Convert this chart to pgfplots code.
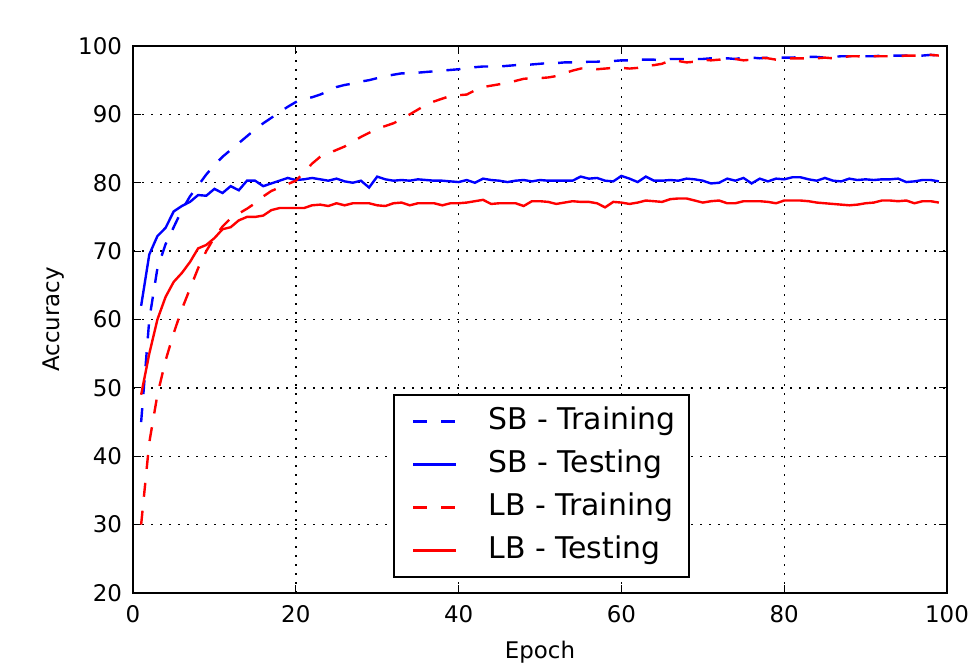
\documentclass[border=0pt]{standalone}
\usepackage{fontspec}
\setmainfont{DejaVu Sans}
\usepackage{pgfplots}
\pgfplotsset{compat=1.18}
\usepackage{pgfplotstable}

\pgfplotstableread{
x sbtr lbtr sbte lbte
1 45 30 62 49
2 60 42 69.5 55
3 67.5 49 72.2 60
4 71 54 73.4 63.3
5 73.5 58 75.8 65.5
6 76 61.5 76.6 66.8
7 78 64.5 77.2 68.4
8 79.6 67.5 78.2 70.4
9 81.2 70 78.1 70.9
10 82.6 72 79.1 71.9
11 83.8 73.6 78.5 73.2
12 84.8 74.8 79.5 73.5
13 85.8 75.5 78.9 74.5
14 86.8 76.2 80.3 75
15 87.8 77 80.3 75
16 88.7 78 79.5 75.2
17 89.5 78.8 79.9 76
18 90.3 79.3 80.3 76.3
19 91.1 79.8 80.7 76.3
20 91.8 80.3 80.4 76.3
21 92.3 81.5 80.5 76.3
22 92.5 82.8 80.7 76.7
23 92.9 83.8 80.5 76.8
24 93.4 84.3 80.3 76.6
25 94 84.8 80.6 77
26 94.3 85.3 80.2 76.7
27 94.5 86 80.0 77
28 94.8 86.7 80.3 77
29 95 87.3 79.3 77
30 95.3 87.9 80.9 76.7
31 95.6 88.3 80.5 76.6
32 95.8 88.7 80.3 77
33 96 89.3 80.4 77.1
34 96 90 80.3 76.7
35 96.1 90.7 80.5 77
36 96.2 91.4 80.4 77
37 96.3 91.9 80.3 77
38 96.4 92.3 80.3 76.7
39 96.5 92.7 80.2 77
40 96.6 92.8 80.1 77
41 96.8 92.9 80.4 77.1
42 96.9 93.5 80.0 77.3
43 97 94 80.6 77.5
44 97 94.2 80.4 76.9
45 97 94.4 80.3 77
46 97.1 94.6 80.1 77
47 97.2 94.9 80.3 77
48 97.2 95.2 80.4 76.6
49 97.3 95.3 80.2 77.3
50 97.4 95.3 80.4 77.3
51 97.5 95.4 80.3 77.2
52 97.5 95.6 80.3 76.9
53 97.6 96 80.3 77.1
54 97.6 96.4 80.3 77.3
55 97.6 96.7 80.9 77.2
56 97.7 96.8 80.6 77.2
57 97.7 96.6 80.7 77
58 97.8 96.7 80.3 76.4
59 97.8 96.8 80.2 77.2
60 97.9 96.8 81.0 77.1
61 97.9 96.7 80.6 76.9
62 98 96.8 80.1 77.1
63 98 97.1 80.9 77.4
64 98 97.2 80.3 77.3
65 97.9 97.4 80.3 77.2
66 98.1 97.9 80.4 77.6
67 98.1 97.8 80.3 77.7
68 98.1 97.6 80.6 77.7
69 98.1 97.7 80.5 77.4
70 98.1 98 80.3 77.1
71 98.2 97.9 79.9 77.3
72 98.2 98 80.0 77.4
73 98.2 98.1 80.6 77
74 98.1 98.1 80.3 77
75 98.3 97.9 80.7 77.3
76 98.3 98 79.9 77.3
77 98.2 98.3 80.6 77.3
78 98.3 98.2 80.2 77.2
79 98.3 98 80.6 77
80 98.3 98.1 80.5 77.4
81 98.3 98.2 80.8 77.4
82 98.4 98.2 80.8 77.4
83 98.4 98.2 80.5 77.3
84 98.4 98.2 80.3 77.1
85 98.3 98.3 80.7 77
86 98.4 98.2 80.3 76.9
87 98.5 98.3 80.2 76.8
88 98.5 98.5 80.6 76.7
89 98.5 98.5 80.4 76.8
90 98.5 98.4 80.5 77
91 98.5 98.5 80.4 77.1
92 98.6 98.5 80.5 77.4
93 98.6 98.5 80.5 77.4
94 98.6 98.5 80.6 77.3
95 98.6 98.6 80.1 77.4
96 98.5 98.6 80.2 77
97 98.6 98.6 80.4 77.3
98 98.7 98.7 80.4 77.3
99 98.6 98.6 80.2 77.1
}\acc

\begin{document}
\begin{tikzpicture}
\useasboundingbox (0,0) rectangle (486bp,331.5bp);
\begin{axis}[
  at={(66.5bp,35bp)}, anchor=south west,
  scale only axis, width=407bp, height=273.5bp,
  xmin=0, xmax=100, ymin=20, ymax=100,
  xtick={0,20,...,100}, ytick={20,30,...,100},
  tick align=inside, major tick length=4bp,
  tick style={black, line width=0.6bp},
  axis line style={line width=1bp},
  grid=major,
  major grid style={black, line width=0.7bp, dash pattern=on 0.8bp off 3.7bp},
  /pgf/number format/assume math mode=true,
  ticklabel style={font=\fontsize{11.5}{13}\selectfont},
  xticklabel style={yshift=-2.5bp},
  yticklabel style={xshift=-2bp},
  xlabel={Epoch}, ylabel={Accuracy},
  label style={font=\fontsize{11.5}{13}\selectfont},
  xlabel style={yshift=-2.5bp},
  ylabel style={yshift=0bp},
  legend style={at={(rel axis cs:0.320,0.0274)}, anchor=south west,
    draw=black, line width=1bp, font=\fontsize{15}{17}\selectfont,
    inner xsep=3bp, inner ysep=2.5bp,
    nodes={text height=11bp, text depth=3.5bp, inner sep=3.5bp}},
  legend cell align=left,
  legend image code/.code={\path[draw=none, fill=none] (0bp,0bp) -- (40.5bp,0bp);\draw[#1, line width=1.2bp] (6.5bp,0bp) -- (28bp,0bp);},
  every axis plot/.append style={line width=1.2bp},
]
\addplot[blue, dash pattern=on 7bp off 7bp] table[x=x, y=sbtr] {\acc};
\addlegendentry{SB - Training}
\addplot[blue] table[x=x, y=sbte] {\acc};
\addlegendentry{SB - Testing}
\addplot[red, dash pattern=on 7bp off 7bp] table[x=x, y=lbtr] {\acc};
\addlegendentry{LB - Training}
\addplot[red] table[x=x, y=lbte] {\acc};
\addlegendentry{LB - Testing}
\end{axis}
\end{tikzpicture}
\end{document}
